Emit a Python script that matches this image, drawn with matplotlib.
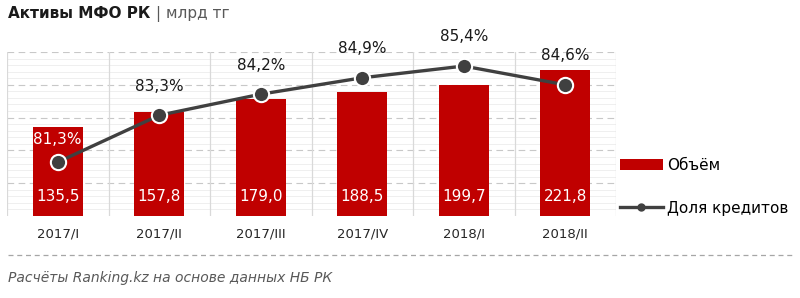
import numpy as np
import matplotlib.pyplot as plt
from matplotlib.lines import Line2D
from matplotlib.patches import Patch

# Data
quarters = ['2017/I', '2017/II', '2017/III', '2017/IV', '2018/I', '2018/II']
volume = [135.5, 157.8, 179.0, 188.5, 199.7, 221.8]      # млрд тг
loan_share = [81.3, 83.3, 84.2, 84.9, 85.4, 84.6]        # %

RED = '#C00000'
DARK = '#404040'

plt.rcParams['font.family'] = 'DejaVu Sans'

fig = plt.figure(figsize=(8, 2.98), dpi=100)
W, H = 800, 298
ax = fig.add_axes([7 / W, 1 - 216 / H, 609 / W, (216 - 52) / H])

x = np.arange(len(quarters))

# grid
ax.set_ylim(0, 250)
ax.set_xlim(-0.5, len(quarters) - 0.5)
for y in np.arange(10, 250, 10):
    if y % 50 == 0:
        continue
    ax.axhline(y, color='#efefef', lw=0.7, zorder=0)
for y in np.arange(50, 251, 50):
    ax.axhline(y, color='#c8c8c8', lw=0.8, ls=(0, (6, 4)), zorder=0)
for b in np.arange(-0.5, len(quarters), 1):
    ax.axvline(b, color='#d9d9d9', lw=0.9, zorder=0)

bars = ax.bar(x, volume, width=0.49, color=RED, zorder=2)
for xi, v in zip(x, volume):
    ax.annotate(f'{v:.1f}'.replace('.', ','), (xi, 0), xytext=(0, 14),
                textcoords='offset points', ha='center', va='center',
                color='white', fontsize=11, zorder=5)

for s in ax.spines.values():
    s.set_visible(False)
ax.set_yticks([])
ax.set_xticks(x)
ax.set_xticklabels(quarters, fontsize=9.5, color='#262626')
ax.tick_params(axis='x', length=0, pad=8)

# share of loans line
ax2 = ax.twinx()
ax2.set_ylim(79, 86)
ax2.set_yticks([])
for s in ax2.spines.values():
    s.set_visible(False)
ax2.plot(x, loan_share, color=DARK, lw=2.4, marker='o', markersize=11,
         markerfacecolor=DARK, markeredgecolor='white', markeredgewidth=1.5,
         zorder=4)
for i, (xi, v) in enumerate(zip(x, loan_share)):
    col = 'white' if i == 0 else '#1a1a1a'
    off = 16 if i == 0 else 21
    ax2.annotate(f'{v:.1f}%'.replace('.', ','), (xi, v), xytext=(0, off),
                 textcoords='offset points', ha='center', va='center',
                 color=col, fontsize=11)

# legend
handles = [Patch(facecolor=RED, edgecolor='none'),
           Line2D([0], [0], color=DARK, lw=2.4, marker='o', markersize=5,
                  markerfacecolor=DARK, markeredgecolor=DARK)]
fig.legend(handles, ['Объём', 'Доля кредитов'], loc='upper left',
           bbox_to_anchor=(620 / W, 1 - 158 / H), frameon=False,
           fontsize=11, handlelength=2.8, handleheight=0.7,
           labelspacing=1.8, handletextpad=0.3, borderpad=0, borderaxespad=0)

# title
t = fig.text(8 / W, 1 - 14 / H, 'Активы МФО РК', fontsize=11, fontweight='bold',
             color='#1a1a1a', va='center', ha='left')
fig.canvas.draw()
bb = t.get_window_extent()
fig.text(bb.x1 / W + 6 / W, 1 - 14 / H, '| млрд тг', fontsize=11,
         color='#595959', va='center', ha='left')

# footer
fig.add_artist(Line2D([8 / W, 792 / W], [1 - 255 / H, 1 - 255 / H],
                      color='#a6a6a6', lw=0.9, ls=(0, (4, 3))))
fig.text(8 / W, 1 - 278 / H, 'Расчёты Ranking.kz на основе данных НБ РК',
         fontsize=10, style='italic', color='#595959', va='center', ha='left')

fig.savefig('out.png', dpi=100)
